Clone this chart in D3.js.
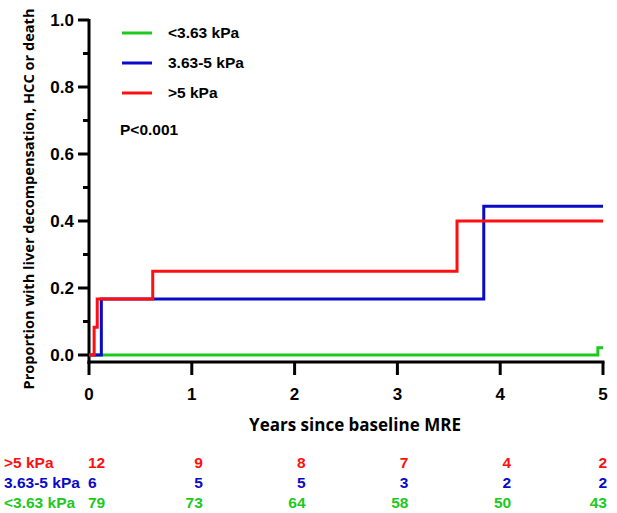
<!DOCTYPE html>
<html>
<head>
<meta charset="utf-8">
<script src="https://cdn.jsdelivr.net/npm/d3@7"></script>
<style>
    body { margin: 0; background: #fff; }
    svg { display: block; }
    .tick-label { font-family: "Liberation Sans Narrow", "Arial Narrow", "Liberation Sans", sans-serif; font-weight: bold; font-size: 17px; }
    .title { font-family: "Open Sans", "Liberation Sans", sans-serif; font-weight: bold; }
    .legend, .risk { font-family: "Liberation Sans", Arial, sans-serif; font-weight: bold; font-size: 15.5px; }
</style>
</head>
<body>
<svg id="chart" width="617" height="513"></svg>
<script>
// 分组
const groups = ['<3.63 kPa', '3.63-5 kPa', '>5 kPa'];
const colors = ['#1ec81e', '#0a0ac8', '#ff1010'];

// KM 阶梯曲线 (时间, 比例)
const greenCurve = [[0, 0], [4.95, 0.022], [5.0, 0.022]];
const blueCurve = [[0, 0], [0.12, 0.167], [3.84, 0.444], [5.0, 0.444]];
const redCurve = [[0, 0], [0.05, 0.083], [0.08, 0.167], [0.62, 0.25], [3.58, 0.40], [5.0, 0.40]];

// 风险人数表
const riskTimes = [0, 1, 2, 3, 4, 5];
const riskLabels = ['>5 kPa', '3.63-5 kPa', '<3.63 kPa'];
const riskRed = [12, 9, 8, 7, 4, 2];
const riskBlue = [6, 5, 5, 3, 2, 2];
const riskGreen = [79, 73, 64, 58, 50, 43];

const xTicks = [0, 1, 2, 3, 4, 5];
const yTicks = [0, 0.2, 0.4, 0.6, 0.8, 1.0];
const yMinorTicks = [0.1, 0.3, 0.5, 0.7, 0.9];

const svg = d3.select('#chart');
const x = d3.scaleLinear().domain([0, 5]).range([89, 603]);
const y = d3.scaleLinear().domain([0, 1]).range([355, 20]);
const xAxisY = 362;

// y 轴
const yAxis = svg.append('g').attr('transform', 'translate(' + x(0) + ',0)');
yAxis.append('line').attr('x1', 0).attr('x2', 0).attr('y1', y(1) - 1).attr('y2', xAxisY + 2)
    .attr('stroke', '#000').attr('stroke-width', 3);
yAxis.selectAll('line.major').data(yTicks).enter().append('line').attr('class', 'major')
    .attr('x1', -11).attr('x2', 0).attr('y1', d => y(d)).attr('y2', d => y(d))
    .attr('stroke', '#000').attr('stroke-width', 3);
yAxis.selectAll('line.minor').data(yMinorTicks).enter().append('line').attr('class', 'minor')
    .attr('x1', -6).attr('x2', 0).attr('y1', d => y(d)).attr('y2', d => y(d))
    .attr('stroke', '#000').attr('stroke-width', 3);
yAxis.selectAll('text').data(yTicks).enter().append('text').attr('class', 'tick-label')
    .attr('x', -15).attr('y', d => y(d)).attr('dy', '0.35em').attr('text-anchor', 'end')
    .text(d => d.toFixed(1));

// x 轴
const xAxis = svg.append('g').attr('transform', 'translate(0,' + xAxisY + ')');
xAxis.append('line').attr('x1', x(0) - 1.5).attr('x2', x(5) + 1.5).attr('y1', 0).attr('y2', 0)
    .attr('stroke', '#000').attr('stroke-width', 3);
xAxis.selectAll('line.tick').data(xTicks).enter().append('line').attr('class', 'tick')
    .attr('x1', d => x(d)).attr('x2', d => x(d)).attr('y1', 0).attr('y2', 13)
    .attr('stroke', '#000').attr('stroke-width', 3);
xAxis.selectAll('text').data(xTicks).enter().append('text').attr('class', 'tick-label')
    .attr('x', d => x(d)).attr('y', 38).attr('text-anchor', 'middle').text(d => d);

// 坐标轴标题
svg.append('text').attr('class', 'title').attr('font-size', 14.6)
    .attr('transform', 'translate(34,199) rotate(-90)').attr('text-anchor', 'middle')
    .text('Proportion with liver decompensation, HCC or death');
svg.append('text').attr('class', 'title').attr('font-size', 17)
    .attr('x', 355).attr('y', 431).attr('text-anchor', 'middle')
    .text('Years since baseline MRE');

// 曲线
const line = d3.line().x(d => x(d[0])).y(d => y(d[1])).curve(d3.curveStepAfter);
[greenCurve, blueCurve, redCurve].forEach((c, i) => {
    svg.append('path').datum(c).attr('d', line).attr('fill', 'none')
        .attr('stroke', colors[i]).attr('stroke-width', 3);
});

// 图例
const legend = svg.append('g');
groups.forEach((g, i) => {
    const ly = 33 + i * 30;
    legend.append('line').attr('x1', 122).attr('x2', 152).attr('y1', ly).attr('y2', ly)
        .attr('stroke', colors[i]).attr('stroke-width', 3);
    legend.append('text').attr('class', 'legend').attr('x', 168).attr('y', ly).attr('dy', '0.35em')
        .text(g);
});
legend.append('text').attr('class', 'legend').attr('x', 120).attr('y', 130).attr('dy', '0.35em')
    .text('P<0.001');

// 风险表
const riskRows = [riskRed, riskBlue, riskGreen];
const riskColors = [colors[2], colors[1], colors[0]];
riskRows.forEach((row, r) => {
    const ry = 463 + r * 20;
    svg.append('text').attr('class', 'risk').attr('x', 4).attr('y', ry).attr('dy', '0.35em')
        .attr('fill', riskColors[r]).text(riskLabels[r]);
    svg.selectAll(null).data(row).enter().append('text').attr('class', 'risk')
        .attr('fill', riskColors[r]).attr('y', ry).attr('dy', '0.35em')
        .attr('x', (d, i) => i === 0 ? x(riskTimes[i]) - 1 : x(riskTimes[i]) + (i === 5 ? 4 : 11))
        .attr('text-anchor', (d, i) => i === 0 ? 'start' : 'end')
        .text(d => d);
});
</script>
</body>
</html>
